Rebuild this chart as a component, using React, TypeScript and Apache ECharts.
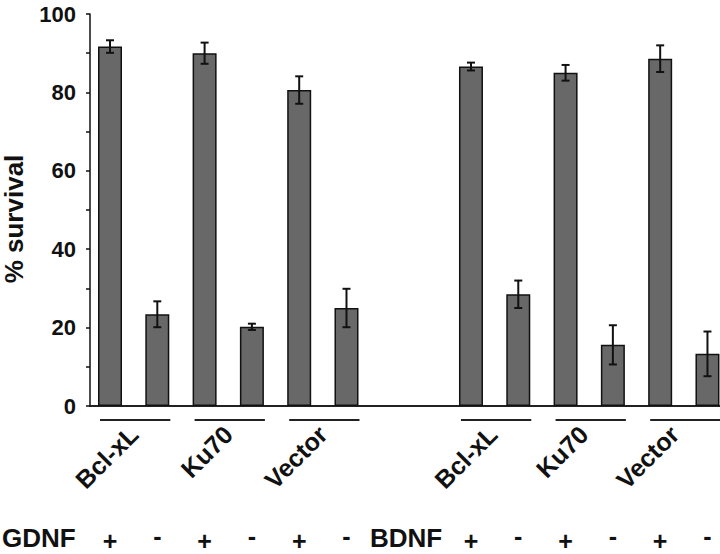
import React, { useEffect, useRef } from "react";
import * as echarts from "echarts";

// ---- data ----
const constructs = ["Bcl-xL", "Ku70", "Vector"];
const factors = ["GDNF", "BDNF"];
const signs = ["+", "-"];
const gdnfPlus = [91.7, 90.0, 80.6];
const gdnfPlusErr = [1.6, 2.7, 3.5];
const gdnfMinus = [23.4, 20.2, 25.0];
const gdnfMinusErr = [3.3, 0.8, 4.9];
const bdnfPlus = [86.6, 85.0, 88.6];
const bdnfPlusErr = [1.0, 2.0, 3.4];
const bdnfMinus = [28.5, 15.6, 13.3];
const bdnfMinusErr = [3.5, 5.0, 5.7];
const yTicks = [0, 20, 40, 60, 80, 100];

// ---- layout (in slot units along a hidden value x axis) ----
const GROUP_START = [0.423, 8.055];
const X_MAX = 13.32;
const SLOT_PX = 47.3;
const GRID_LEFT = 90;
const FONT = '"Liberation Sans", Arial, sans-serif';
const INK = "#111";

type Bar = { x: number; value: number; err: number; sign: string };

function buildBars(): Bar[] {
  const plus = [gdnfPlus, bdnfPlus];
  const plusErr = [gdnfPlusErr, bdnfPlusErr];
  const minus = [gdnfMinus, bdnfMinus];
  const minusErr = [gdnfMinusErr, bdnfMinusErr];
  const out: Bar[] = [];
  factors.forEach((_, g) => {
    constructs.forEach((__, c) => {
      out.push({ x: GROUP_START[g] + c * 2, value: plus[g][c], err: plusErr[g][c], sign: signs[0] });
      out.push({ x: GROUP_START[g] + c * 2 + 1, value: minus[g][c], err: minusErr[g][c], sign: signs[1] });
    });
  });
  return out;
}

const txtStyle = (text: string, size: number, align: string, va: string) => ({
  text,
  x: 0,
  y: 0,
  fill: INK,
  font: `bold ${size}px ${FONT}`,
  textAlign: align,
  textVerticalAlign: va,
  align,
  verticalAlign: va,
});

export default function App() {
  const ref = useRef<HTMLDivElement>(null);
  useEffect(() => {
    if (!ref.current) return;
    const chart = echarts.init(ref.current, undefined, { renderer: "svg" });
    const bars = buildBars();

    // one label grid per treatment group, spanning its three bar pairs
    const labelGrids = factors.map((_, g) => ({
      left: GRID_LEFT + (GROUP_START[g] - 0.5) * SLOT_PX,
      width: constructs.length * 2 * SLOT_PX,
      top: 14,
      bottom: 148,
    }));

    const option: any = {
      animation: false,
      grid: [{ left: GRID_LEFT, right: 0, top: 14, bottom: 148 }, ...labelGrids],
      xAxis: [
        {
          type: "value",
          gridIndex: 0,
          min: 0,
          max: X_MAX,
          axisLine: { show: true, onZero: true, lineStyle: { color: "#222", width: 2 } },
          axisTick: { show: false },
          axisLabel: { show: false },
          splitLine: { show: false },
        },
        ...factors.map((_, g) => ({
          type: "category",
          gridIndex: g + 1,
          data: constructs,
          boundaryGap: true,
          axisLine: { show: false },
          axisTick: { show: false },
          splitLine: { show: false },
          axisLabel: {
            interval: 0,
            rotate: 45,
            margin: 24,
            fontSize: 25,
            fontWeight: "bold",
            fontFamily: FONT,
            color: INK,
          },
        })),
      ],
      yAxis: [
        {
          type: "value",
          gridIndex: 0,
          min: yTicks[0],
          max: yTicks[yTicks.length - 1],
          interval: yTicks[1] - yTicks[0],
          axisLine: { show: true, lineStyle: { color: INK, width: 1.5 } },
          axisTick: { show: true, length: 4, lineStyle: { color: INK, width: 1.5 } },
          minorTick: { show: true, splitNumber: 2, length: 4, lineStyle: { color: INK, width: 1.5 } },
          splitLine: { show: false },
          minorSplitLine: { show: false },
          axisLabel: {
            fontSize: 22,
            fontWeight: "bold",
            fontFamily: FONT,
            color: INK,
            margin: 14,
            padding: [0, 0, 8, 0],
          },
        },
        ...factors.map((_, g) => ({
          type: "value",
          gridIndex: g + 1,
          min: 0,
          max: 100,
          show: false,
        })),
      ],
      series: [
        {
          type: "bar",
          data: bars.map((b) => [b.x, b.value]),
          barWidth: 24,
          itemStyle: { color: "#686868", borderColor: INK, borderWidth: 1.5 },
          silent: true,
        },
        {
          type: "custom",
          data: bars.map((b) => [b.x, b.value, b.err]),
          renderItem: (params: any, api: any) => {
            const x = api.value(0);
            const v = api.value(1);
            const e = api.value(2);
            const top = api.coord([x, v + e]);
            const bot = api.coord([x, v - e]);
            const cx = top[0];
            const st = { stroke: INK, lineWidth: 2 };
            return {
              type: "group",
              children: [
                { type: "line", shape: { x1: cx, y1: top[1], x2: cx, y2: bot[1] }, style: st },
                { type: "line", shape: { x1: cx - 4, y1: top[1], x2: cx + 4, y2: top[1] }, style: st },
                { type: "line", shape: { x1: cx - 4, y1: bot[1], x2: cx + 4, y2: bot[1] }, style: st },
              ],
            };
          },
          silent: true,
          z: 5,
        },
      ],
    };
    chart.setOption(option);

    const px = (x: number, y: number) => chart.convertToPixel({ gridIndex: 0 }, [x, y]) as number[];
    const graphics: any[] = [
      {
        type: "group",
        x: 14,
        y: 219,
        rotation: Math.PI / 2,
        children: [{ type: "text", style: txtStyle("% survival", 26, "center", "middle") }],
      },
      { type: "text", x: 2, y: 538, style: txtStyle(factors[0], 26, "left", "middle") },
      { type: "text", x: 370, y: 538, style: txtStyle(factors[1], 26, "left", "middle") },
    ];
    factors.forEach((_, g) =>
      constructs.forEach((__, c) => {
        const xc = GROUP_START[g] + c * 2 + 0.5;
        const l = px(xc - 0.5, 0);
        const r = px(xc + 0.5, 0);
        graphics.push({
          type: "line",
          shape: { x1: l[0] - 10, y1: l[1] + 14, x2: r[0] + 13, y2: l[1] + 14 },
          style: { stroke: "#222", lineWidth: 2 },
        });
      })
    );
    bars.forEach((b) => {
      const c = px(b.x, 0);
      graphics.push({
        type: "text",
        x: c[0],
        y: b.sign === signs[0] ? c[1] + 135 : c[1] + 130,
        style: txtStyle(b.sign, 25, "center", "middle"),
      });
    });
    chart.setOption({ graphic: graphics });
    return () => chart.dispose();
  }, []);
  return <div ref={ref} style={{ width: 720, height: 554, position: "absolute", left: 0, top: 0 }} />;
}
